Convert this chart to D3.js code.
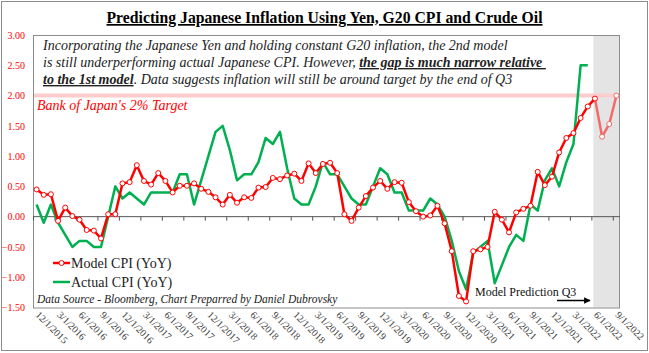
<!DOCTYPE html>
<html lang="en">
  <head>
    <meta charset="UTF-8" />
    <title>japan cpi model</title>
    <style>
      body { margin: 0; background: #fff; }
      text { font-family: "Liberation Serif", "Times New Roman", serif; }
    </style>
  </head>
  <body>
    <div class="container"></div>

    <script src="https://d3js.org/d3.v7.min.js"></script>
    <script>
      // data: monthly, 12/2015 .. 9/2022
      const modelCPI = [
        0.45, 0.36, 0.37, -0.07, 0.15, 0.01, -0.05, -0.22, -0.23, -0.36, 0.04, 0.04,
        0.55, 0.57, 0.85, 0.59, 0.53, 0.72, 0.59, 0.40, 0.51, 0.51, 0.55, 0.46,
        0.41, 0.32, 0.20, 0.36, 0.23, 0.32, 0.31, 0.48, 0.49, 0.64, 0.62, 0.68,
        0.71, 0.59, 0.88, 0.72, 0.87, 0.89, 0.72, 0.04, -0.07, 0.15, 0.34, 0.48,
        0.59, 0.46, 0.57, 0.56, 0.24, 0.09, 0.00, 0.02, 0.18, -0.11, -0.57, -1.31,
        -1.40, -0.57, -0.54, -0.50, 0.08, -0.05, -0.26, 0.07, 0.13, 0.18, 0.74, 0.52,
        0.66, 1.06, 1.30, 1.38, 1.63, 1.82, 1.95, 1.32, 1.53, 2.00,
      ];
      const actualCPI = [
        0.2, -0.1, 0.2, -0.1, -0.3, -0.5, -0.4, -0.4, -0.5, -0.5, 0.0, 0.5,
        0.3, 0.4, 0.3, 0.2, 0.4, 0.4, 0.4, 0.4, 0.7, 0.7, 0.2, 0.6,
        1.0, 1.4, 1.5, 1.1, 0.6, 0.7, 0.7, 0.9, 1.3, 1.2, 1.4, 0.8,
        0.3, 0.2, 0.2, 0.5, 0.9, 0.7, 0.7, 0.5, 0.3, 0.2, 0.2, 0.5,
        0.8, 0.7, 0.4, 0.4, 0.1, 0.1, 0.1, 0.3, 0.2, 0.0, -0.4, -0.9,
        -1.2, -0.6, -0.5, -0.4, -1.1, -0.8, -0.5, -0.3, -0.4, 0.2, 0.1, 0.6,
        0.8, 0.5, 0.9, 1.2, 2.5, 2.5,
      ];
      const tickLabels = [
        "12/1/2015", "3/1/2016", "6/1/2016", "9/1/2016", "12/1/2016", "3/1/2017",
        "6/1/2017", "9/1/2017", "12/1/2017", "3/1/2018", "6/1/2018", "9/1/2018",
        "12/1/2018", "3/1/2019", "6/1/2019", "9/1/2019", "12/1/2019", "3/1/2020",
        "6/1/2020", "9/1/2020", "12/1/2020", "3/1/2021", "6/1/2021", "9/1/2021",
        "12/1/2021", "3/1/2022", "6/1/2022", "9/1/2022",
      ];
      const yTicks = [3.0, 2.5, 2.0, 1.5, 1.0, 0.5, 0.0, -0.5, -1.0, -1.5];
      const predictionStart = "6/1/2022"; // shaded months
      const target = 2.0;

      const fmt = d3.timeFormat("%-m/%-d/%Y");
      const months = d3.timeMonth
        .range(new Date(2015, 11, 1), new Date(2022, 9, 1))
        .map(fmt);

      const W = 649, H = 353;
      const plot = { left: 33, right: 620, top: 35, bottom: 307.5 };

      const svg = d3.select(".container").append("svg")
        .attr("width", W).attr("height", H);

      // outer frame
      svg.append("rect")
        .attr("x", 1.5).attr("y", 1.5).attr("width", W - 3).attr("height", H - 4)
        .attr("fill", "#fff").attr("stroke", "#8c8c8c").attr("stroke-width", 1);

      const x = d3.scaleBand().domain(months).range([plot.left, plot.right]);
      const cx = (m) => x(m) + x.bandwidth() / 2;
      const y = d3.scaleLinear().domain([-1.5, 3]).range([plot.bottom, plot.top]);

      // prediction shading
      svg.append("rect")
        .attr("x", x(predictionStart) + 2)
        .attr("y", plot.top)
        .attr("width", plot.right - x(predictionStart) - 2)
        .attr("height", plot.bottom - plot.top)
        .attr("fill", "#e4e4e4");

      // 2% target line
      svg.append("line")
        .attr("x1", plot.left).attr("x2", plot.right)
        .attr("y1", y(target)).attr("y2", y(target))
        .attr("stroke", "#ffcccc").attr("stroke-width", 4);

      // plot frame
      svg.append("rect")
        .attr("x", plot.left + 0.5).attr("y", plot.top + 0.5)
        .attr("width", plot.right - plot.left - 1).attr("height", plot.bottom - plot.top)
        .attr("fill", "none").attr("stroke", "#8c8c8c");

      // y axis labels
      const yAxis = svg.append("g")
        .attr("transform", `translate(${plot.left},0)`)
        .call(d3.axisLeft(y).tickValues(yTicks).tickFormat(d3.format(".2f")).tickSize(0).tickPadding(8));
      yAxis.select(".domain").remove();
      yAxis.selectAll("text")
        .attr("fill", "#ff0000")
        .style("font-family", "Liberation Serif")
        .style("font-size", "10px");

      // x axis on zero line, ticks at quarter starts
      const xAxis = svg.append("g")
        .attr("transform", `translate(0,${y(0)})`)
        .call(d3.axisBottom(d3.scaleLinear().domain([plot.left, plot.right]).range([plot.left, plot.right]))
          .tickValues(tickLabels.map((t) => x(t)))
          .tickSize(4).tickFormat(""));
      xAxis.select(".domain").attr("stroke", "#555").attr("d", `M${plot.left},0H${plot.right}`);
      xAxis.selectAll(".tick line").attr("stroke", "#555");

      // rotated tick labels at bottom
      svg.append("g")
        .selectAll("text")
        .data(tickLabels)
        .join("text")
        .attr("transform", (d) => `translate(${x(d) + 2},${plot.bottom + 8}) rotate(45)`)
        .attr("font-size", 10)
        .attr("fill", "#404040")
        .text((d) => d);

      // lines
      const line = d3.line().x((d) => cx(d[0])).y((d) => y(d[1]));
      const actualPts = actualCPI.map((v, i) => [months[i], v]);
      const modelPts = modelCPI.map((v, i) => [months[i], v]);
      const split = months.indexOf(predictionStart);
      const modelSolid = modelPts.slice(0, split + 1);
      const modelPred = modelPts.slice(split);

      svg.append("path")
        .attr("d", line(actualPts))
        .attr("fill", "none").attr("stroke", "#00b050").attr("stroke-width", 2.5)
        .attr("stroke-linejoin", "round");

      svg.append("path")
        .attr("d", line(modelSolid))
        .attr("fill", "none").attr("stroke", "#ff0000").attr("stroke-width", 2.5)
        .attr("stroke-linejoin", "round");
      svg.append("path")
        .attr("d", line(modelPred))
        .attr("fill", "none").attr("stroke", "#f26b6b").attr("stroke-width", 2.5)
        .attr("stroke-linejoin", "round");

      svg.append("g")
        .selectAll("circle")
        .data(modelPts)
        .join("circle")
        .attr("cx", (d) => cx(d[0]))
        .attr("cy", (d) => y(d[1]))
        .attr("r", 2.5)
        .attr("fill", "#fff")
        .attr("stroke", (d, i) => (i > split ? "#f26b6b" : "#ff0000"))
        .attr("stroke-width", 1);

      // title
      svg.append("text")
        .attr("x", W / 2).attr("y", 23)
        .attr("text-anchor", "middle")
        .attr("font-size", 17).attr("font-weight", "bold")
        .attr("textLength", 436).attr("lengthAdjust", "spacingAndGlyphs")
        .style("text-decoration", "underline")
        .text("Predicting Japanese Inflation Using Yen, G20 CPI and Crude Oil");

      // commentary
      const note = svg.append("text")
        .attr("font-size", 14).attr("font-style", "italic").attr("fill", "#222")
        .style("white-space", "pre");
      note.append("tspan").attr("x", 43).attr("y", 50)
        .text("Incorporating the Japanese Yen and holding constant G20 inflation, the 2nd model");
      note.append("tspan").attr("x", 43).attr("y", 67)
        .text("is still underperforming actual Japanese CPI. However, ");
      note.append("tspan").attr("font-weight", "bold").style("text-decoration", "underline")
        .text("the gap is much narrow relative ");
      note.append("tspan").attr("x", 43).attr("y", 84).attr("font-weight", "bold")
        .style("text-decoration", "underline").text("to the 1st model");
      note.append("tspan").text(". Data suggests inflation will still be around target by the end of Q3");

      svg.append("text")
        .attr("x", 37).attr("y", 110)
        .attr("font-size", 14).attr("font-style", "italic").attr("fill", "#ff0000")
        .text("Bank of Japan's 2% Target");

      // legend
      const legend = svg.append("g");
      legend.append("line").attr("x1", 53).attr("x2", 70).attr("y1", 263).attr("y2", 263)
        .attr("stroke", "#ff0000").attr("stroke-width", 2.5);
      legend.append("circle").attr("cx", 61.5).attr("cy", 263).attr("r", 2.5)
        .attr("fill", "#fff").attr("stroke", "#ff0000");
      legend.append("text").attr("x", 71).attr("y", 268).attr("font-size", 14).attr("fill", "#222")
        .text("Model CPI (YoY)");
      legend.append("line").attr("x1", 53).attr("x2", 70).attr("y1", 282).attr("y2", 282)
        .attr("stroke", "#00b050").attr("stroke-width", 2.5);
      legend.append("text").attr("x", 71).attr("y", 287).attr("font-size", 14).attr("fill", "#222")
        .text("Actual CPI (YoY)");

      // source
      svg.append("text")
        .attr("x", 37).attr("y", 303)
        .attr("font-size", 11.5).attr("font-style", "italic").attr("fill", "#222")
        .text("Data Source - Bloomberg, Chart Preparred by Daniel Dubrovsky");

      // prediction note + arrow
      svg.append("defs").append("marker")
        .attr("id", "arrow").attr("viewBox", "0 0 10 10")
        .attr("refX", 9).attr("refY", 5)
        .attr("markerWidth", 6).attr("markerHeight", 5).attr("orient", "auto")
        .append("path").attr("d", "M0,0L10,5L0,10Z").attr("fill", "#000");
      svg.append("text")
        .attr("x", 475).attr("y", 296)
        .attr("font-size", 12).attr("fill", "#111")
        .text("Model Prediction Q3");
      svg.append("line")
        .attr("x1", 557).attr("x2", 590).attr("y1", 300.5).attr("y2", 300.5)
        .attr("stroke", "#000").attr("stroke-width", 1.3)
        .attr("marker-end", "url(#arrow)");
    </script>
  </body>
</html>
